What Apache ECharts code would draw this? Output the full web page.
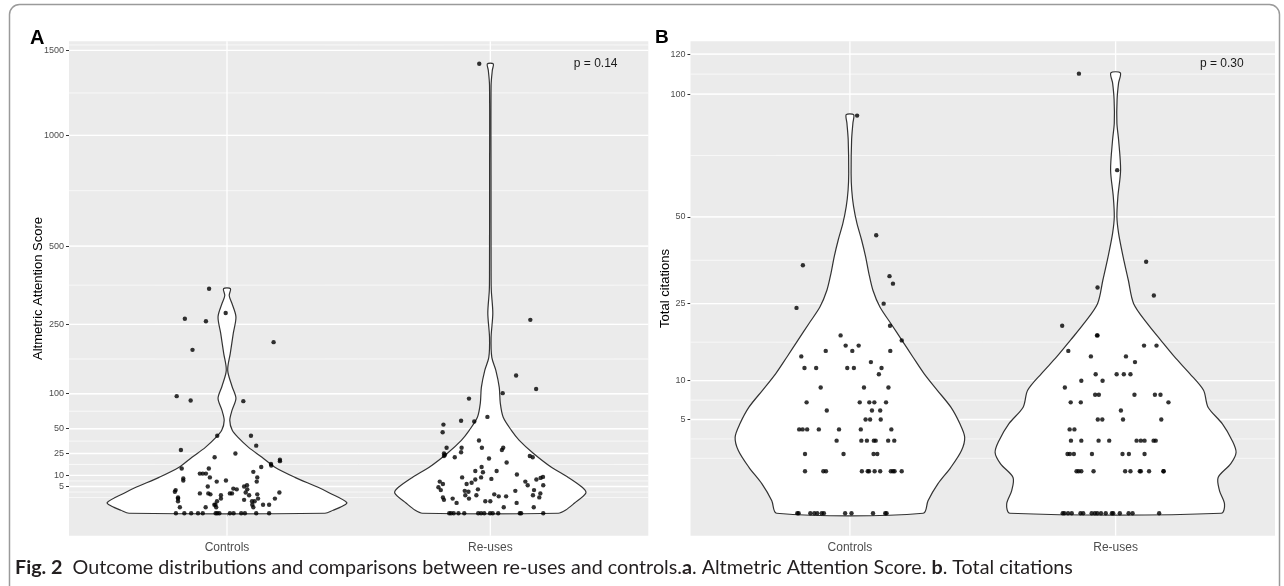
<!DOCTYPE html>
<html><head><meta charset="utf-8">
<script src="https://cdn.jsdelivr.net/npm/echarts@6/dist/echarts.min.js"></script>
<style>html,body{margin:0;padding:0;background:#fff}#c{width:1284px;height:586px}</style>
</head><body><div id="c"></div>
<script>
// ---------- data ----------
const categories = ['Controls', 'Re-uses'];
const aBreaks = [5, 10, 25, 50, 100, 250, 500, 1000, 1500];
const bBreaks = [5, 10, 25, 50, 100, 120];
const aTop = 1415;           // height of p-value annotation (panel A)
const bTop = 115;            // height of p-value annotation (panel B)
const pLabels = ['p = 0.14', 'p = 0.30'];
const pLabelX = 2.4;
const aTitle = 'Altmetric Attention Score';
const bTitle = 'Total citations';

// Panel A, Controls: scores and horizontal jitter
const aCtrlVal = [353,281,265,258,205,187,96,89,88,42,42,32,28,25,22,20,19,17,16,15,14,14,12,11,11,11,9,9,8.5,7.5,7,7.5,7,5,5,4.25,4,5.5,4,3.75,3.25,2.75,2.75,2.5,2.25,1.5,2.75,2.75,3,2.25,2.5,3,1.75,1.5,1,1,0.5,0.25,1.25,1,1,1.5,0.5,0.25,0.5,0.5,1.5,0.25,0.25,0.5,0,0,0,0,0,0,0,0,0,0,0,0,0,0];
const aCtrlJit = [-0.068,-0.005,-0.160,-0.080,0.177,-0.131,-0.191,-0.138,0.062,-0.037,0.091,0.111,-0.175,0.032,-0.047,0.201,0.201,0.167,0.168,0.130,-0.172,-0.069,0.100,-0.103,-0.092,-0.080,-0.065,0.115,-0.166,-0.166,-0.039,-0.004,0.113,-0.073,0.065,0.024,0.037,0.076,0.077,-0.195,-0.198,-0.103,-0.071,-0.063,-0.023,-0.023,0.011,0.019,0.071,0.084,0.115,0.199,-0.186,-0.186,-0.186,-0.038,-0.044,-0.041,0.065,0.095,0.105,0.118,0.096,0.100,0.137,0.160,0.182,-0.179,-0.081,-0.048,-0.194,-0.162,-0.136,-0.110,-0.092,-0.043,-0.037,-0.029,0.011,0.025,0.054,0.068,0.111,0.160];
// Panel A, Re-uses
const aReuVal = [1415,262,133,108,101,92,65,60,59,55,46,37,30,30,30,26,25,24,23,22,30,28,21,23,22,18,15,12.5,11.75,12.5,10.5,9,8,9,8.25,8,8.75,9.25,7,6,6,6.5,7,5.5,5.5,4.75,3.75,3.5,3.25,4,2.25,1.5,2.25,2.5,2,2,3.5,3.75,2.25,1.75,2.75,1.75,1.25,1.5,0.75,1,1,0.75,0.25,0.25,0,0,0,0,0,0,0,0,0,0,0,0,0,0];
const aReuJit = [-0.042,0.152,0.098,0.174,0.047,-0.081,-0.011,-0.111,-0.061,-0.178,-0.181,-0.043,-0.166,-0.109,-0.032,-0.111,-0.176,-0.172,-0.176,-0.135,0.049,0.044,-0.005,0.150,0.161,0.062,-0.033,-0.057,-0.028,0.024,0.101,-0.107,-0.057,-0.035,0.004,0.175,0.191,0.200,-0.192,-0.180,-0.090,-0.071,0.133,0.142,0.201,-0.197,-0.188,-0.097,-0.083,-0.047,-0.095,-0.081,-0.053,0.015,0.032,0.060,0.095,0.166,0.162,0.186,0.190,-0.180,-0.176,-0.143,-0.128,-0.019,0.000,0.100,0.051,0.165,-0.156,-0.149,-0.139,-0.121,-0.099,-0.046,-0.035,-0.023,-0.001,0.009,0.030,0.112,0.117,0.201];
// Panel B, Controls: citations and jitter
const bCtrlVal = [90,44,35,32,30,25,24,20,17,18,16,16,15,15,15,14,13,12,12,12,12,12,11,9,9,9,7,7,7,7,7,6,6,6,5,5,5,4,4,4,4,4,4,4,3,3,3,3,3,3,3,2,2,2,2,1,1,1,1,1,1,1,1,1,1,1,1,0,0,0,0,0,0,0,0,0,0,0,0];
const bCtrlJit = [0.027,0.099,-0.177,0.149,0.162,0.127,-0.201,0.151,0.195,-0.035,-0.016,0.033,-0.091,0.009,0.152,-0.183,0.079,-0.171,-0.127,-0.010,0.015,0.119,0.109,-0.110,0.053,0.145,-0.163,0.037,0.073,0.092,0.136,-0.087,0.083,0.114,0.059,0.076,0.116,-0.191,-0.178,-0.161,-0.117,-0.041,0.041,0.156,-0.050,0.043,0.064,0.090,0.097,0.144,0.167,-0.169,-0.024,0.089,0.103,-0.169,-0.100,-0.090,0.045,0.067,0.072,0.093,0.114,0.154,0.162,0.168,0.195,-0.198,-0.193,-0.149,-0.134,-0.123,-0.106,-0.098,-0.018,0.006,0.087,0.133,0.138];
// Panel B, Re-uses
const bReuVal = [110,67,36,29,27,20,18,18,16,16,15,14,14,13,11,11,11,11,10,10,9,8,8,8,8,8,7,7,7,6,5,5,5,5,4,4,3,3,3,3,3,3,3,3,3,2,2,2,2,2,2,2,1,1,1,1,1,1,1,1,1,1,1,0,0,0,0,0,0,0,0,0,0,0,0,0,0,0,0,0];
const bReuJit = [-0.138,0.006,0.115,-0.068,0.144,-0.201,-0.070,-0.068,0.107,0.154,-0.178,-0.093,0.039,0.073,-0.075,0.004,0.031,0.056,-0.129,-0.049,-0.191,-0.077,-0.063,0.071,0.148,0.169,-0.169,-0.131,0.199,0.020,-0.067,-0.050,0.028,0.172,-0.173,-0.155,-0.168,-0.129,-0.064,-0.024,0.079,0.095,0.109,0.143,0.151,-0.181,-0.172,-0.157,-0.089,0.026,0.050,0.109,-0.147,-0.139,-0.129,-0.083,0.036,0.056,0.091,0.095,0.126,0.180,0.181,-0.199,-0.193,-0.179,-0.165,-0.132,-0.122,-0.090,-0.078,-0.069,-0.055,-0.037,-0.014,-0.009,0.016,0.049,0.064,0.164];

// Violin outlines: density profile (level in data units, half-width in category units)
const aCtrlVioY = [0,0.06,0.24,0.79,2.8,4.7,9.0,14.8,21.9,30.4,40.3,48.1,60.4,74,92.5,113,143,179,227,270,308,332,353];
const aCtrlVioW = [0.372,0.403,0.429,0.455,0.391,0.346,0.258,0.182,0.133,0.082,0.042,0.020,0.0106,0.019,0.034,0.019,0.0027,0.0125,0.024,0.034,0.019,0.0084,0.0133];
const aReuVioY = [0,0.06,0.69,2.86,4.7,9.0,14.8,25.2,37.2,48.1,64.4,84.6,111,143,170,217,280,348,413,800,1282,1374,1415];
const aReuVioW = [0.258,0.285,0.319,0.363,0.349,0.296,0.232,0.163,0.110,0.080,0.049,0.038,0.034,0.021,0.0057,0.003,0.0095,0.0038,0.003,0.0027,0.003,0.0076,0.0114];
const bCtrlVioY = [0,0.09,0.49,1.20,2.24,3.29,4.55,6.4,8.6,11.1,13.9,17.0,20.5,24.2,28.3,32.7,37.5,42.5,47.9,53.5,59.5,65.8,79.4,86.7,90.4];
const bCtrlVioW = [0.276,0.294,0.331,0.380,0.420,0.432,0.414,0.380,0.329,0.279,0.237,0.196,0.154,0.113,0.0866,0.0715,0.059,0.044,0.0263,0.0139,0.0068,0.0045,0.0064,0.0113,0.0139];
const bReuVioY = [0,0.048,0.29,0.73,1.39,2.1,3.0,4.55,6.4,8.6,11.1,13.9,17.1,20.5,25.0,30.9,37.5,44.6,50.1,57.1,67.1,79.4,86.7,97.4,105.4,110.4];
const bReuVioW = [0.398,0.41,0.391,0.386,0.433,0.4535,0.439,0.402,0.348,0.331,0.279,0.222,0.169,0.119,0.068,0.048,0.0282,0.0113,0.0049,0.0087,0.0188,0.0113,0.0049,0.0056,0.0113,0.018];

// ---------- chart ----------
const sq = Math.sqrt;
const FONT = 'Liberation Sans, Arial, sans-serif';
const chart = echarts.init(document.getElementById('c'));

function minorBreaks(breaks, lo, hi) { // ggplot2 regular_minor_breaks, in sqrt space
  let b = breaks.map(sq);
  const bd = b[1] - b[0];
  if (lo < b[0]) b = [b[0] - bd].concat(b);
  if (hi > b[b.length - 1]) b = b.concat([b[b.length - 1] + bd]);
  const out = [];
  for (let i = 0; i < b.length - 1; i++) out.push(b[i], (b[i] + b[i + 1]) / 2);
  out.push(b[b.length - 1]);
  return out.filter(v => v >= lo && v <= hi);
}

const panels = [
  { grid: { left: 69, top: 41.3, width: 579.3, height: 494.4 }, breaks: aBreaks, top: aTop, title: aTitle, nameGap: 24, p: pLabels[0],
    groups: [[aCtrlVal, aCtrlJit, aCtrlVioY, aCtrlVioW], [aReuVal, aReuJit, aReuVioY, aReuVioW]] },
  { grid: { left: 690.5, top: 41.3, width: 584.5, height: 494.4 }, breaks: bBreaks, top: bTop, title: bTitle, nameGap: 19, p: pLabels[1],
    groups: [[bCtrlVal, bCtrlJit, bCtrlVioY, bCtrlVioW], [bReuVal, bReuJit, bReuVioY, bReuVioW]] }
];

const grids = [], xAxes = [], yAxes = [], series = [];
panels.forEach((P, i) => {
  const M = sq(P.top);
  const lo = -0.05 * M, hi = 1.05 * M;
  grids.push(Object.assign({ show: true, backgroundColor: '#EBEBEB', borderWidth: 0, containLabel: false }, P.grid));
  xAxes.push({
    gridIndex: i, type: 'value', min: 0.4, max: 2.6,
    axisLine: { show: false }, splitLine: { show: false },
    axisTick: { show: true, length: 3, customValues: [1, 2], lineStyle: { color: '#333', width: 1 } },
    axisLabel: { customValues: [1, 2], formatter: v => categories[Math.round(v) - 1], color: '#4D4D4D', fontSize: 12, fontFamily: FONT, margin: 6 }
  });
  yAxes.push({
    gridIndex: i, type: 'value', min: lo, max: hi,
    name: P.title, nameLocation: 'middle', nameGap: P.nameGap, nameMoveOverlap: false,
    nameTextStyle: { color: '#000', fontSize: 13, fontFamily: FONT },
    axisLine: { show: false }, splitLine: { show: false },
    axisTick: { show: true, length: 3, customValues: P.breaks.map(sq), lineStyle: { color: '#333', width: 1 } },
    axisLabel: { customValues: P.breaks.map(sq), formatter: v => String(Math.round(v * v)), color: '#4D4D4D', fontSize: 9, fontFamily: FONT, margin: 5 }
  });
  // grid lines (minor first, then major)
  const lines = [];
  minorBreaks(P.breaks, lo, hi).forEach(v => lines.push([1, v, 0, 0]));
  P.breaks.forEach(b => lines.push([1, sq(b), 1, 0]));
  [1, 2].forEach(c => lines.push([c, 0, 1, 1]));
  series.push({
    type: 'custom', xAxisIndex: i, yAxisIndex: i, silent: true, z: 1, animation: false,
    data: lines, encode: { x: 0, y: 1 },
    renderItem: (params, api) => {
      const cs = params.coordSys;
      const major = api.value(2) === 1;
      const style = { stroke: '#FFFFFF', lineWidth: major ? 1.3 : 0.65 };
      if (api.value(3) === 0) {
        const y = api.coord([1, api.value(1)])[1];
        return { type: 'line', shape: { x1: cs.x, y1: y, x2: cs.x + cs.width, y2: y }, style };
      }
      const x = api.coord([api.value(0), 0])[0];
      return { type: 'line', shape: { x1: x, y1: cs.y, x2: x, y2: cs.y + cs.height }, style };
    }
  });
  // violins
  series.push({
    type: 'custom', xAxisIndex: i, yAxisIndex: i, silent: true, z: 2, animation: false,
    data: [[1, 0], [2, 0]], encode: { x: 0, y: 1 },
    renderItem: (params, api) => {
      const g = P.groups[params.dataIndex];
      const cat = params.dataIndex + 1;
      const lv = g[2], w = g[3];
      const right = lv.map((l, k) => api.coord([cat + w[k], sq(l)]));
      const left = lv.map((l, k) => api.coord([cat - w[k], sq(l)])).reverse();
      return { type: 'polygon', shape: { points: right.concat(left), smooth: 0.3 },
               style: { fill: '#FFFFFF', stroke: '#333333', lineWidth: 1.2 } };
    }
  });
  // jittered points
  const pts = [];
  P.groups.forEach((g, gi) => g[0].forEach((v, k) => pts.push([gi + 1 + g[1][k], sq(v)])));
  series.push({
    type: 'scatter', xAxisIndex: i, yAxisIndex: i, silent: true, z: 3, animation: false,
    symbol: 'circle', symbolSize: 4.4, itemStyle: { color: '#000000' }, data: pts
  });
  // p-value annotation
  series.push({
    type: 'custom', xAxisIndex: i, yAxisIndex: i, silent: true, z: 4, animation: false,
    data: [[pLabelX, M]], encode: { x: 0, y: 1 },
    renderItem: (params, api) => {
      const c = api.coord([api.value(0), api.value(1)]);
      return { type: 'text', x: c[0], y: c[1],
               style: { text: P.p, fill: '#1a1a1a', fontSize: 12, fontFamily: FONT, align: 'center', verticalAlign: 'middle' } };
    }
  });
});

// caption sized to the reference width
const capPlain1 = '  Outcome distributions and comparisons between re-uses and controls.';
const capPlain2 = '. Altmetric Attention Score. ';
const capPlain3 = '. Total citations';
const CAPFONT = 'Lato, "Open Sans", sans-serif';
const ctx = document.createElement('canvas').getContext('2d');
function capWidth(fs) {
  ctx.font = 'bold ' + fs + 'px ' + CAPFONT;
  let w = ctx.measureText('Fig. 2').width + ctx.measureText('a').width + ctx.measureText('b').width;
  ctx.font = fs + 'px ' + CAPFONT;
  w += ctx.measureText(capPlain1).width + ctx.measureText(capPlain2).width + ctx.measureText(capPlain3).width;
  return w;
}
const capFs = Math.max(10, Math.min(22, 16 * 1058 / capWidth(16)));

chart.setOption({
  animation: false,
  textStyle: { fontFamily: FONT },
  grid: grids, xAxis: xAxes, yAxis: yAxes, series: series,
  graphic: [
    { type: 'rect', silent: true, z: 100, shape: { x: 9.5, y: 4.5, width: 1270, height: 650, r: 10 },
      style: { fill: 'none', stroke: '#9A9A9A', lineWidth: 1.5 } },
    { type: 'text', silent: true, z: 100, x: 30, y: 28,
      style: { text: 'A', fontSize: 20, fontWeight: 'bold', fill: '#000', fontFamily: FONT } },
    { type: 'text', silent: true, z: 100, x: 655, y: 28,
      style: { text: 'B', fontSize: 19, fontWeight: 'bold', fill: '#000', fontFamily: FONT } },
    { type: 'text', silent: true, z: 100, x: 15, y: 568,
      style: { text: '{b|Fig. 2}' + capPlain1 + '{b|a}' + capPlain2 + '{b|b}' + capPlain3,
               fontSize: capFs, fontFamily: CAPFONT, fill: '#231F20', verticalAlign: 'middle',
               rich: { b: { fontWeight: 'bold', fontSize: capFs, fontFamily: CAPFONT, fill: '#231F20' } } } }
  ]
});
</script></body></html>
